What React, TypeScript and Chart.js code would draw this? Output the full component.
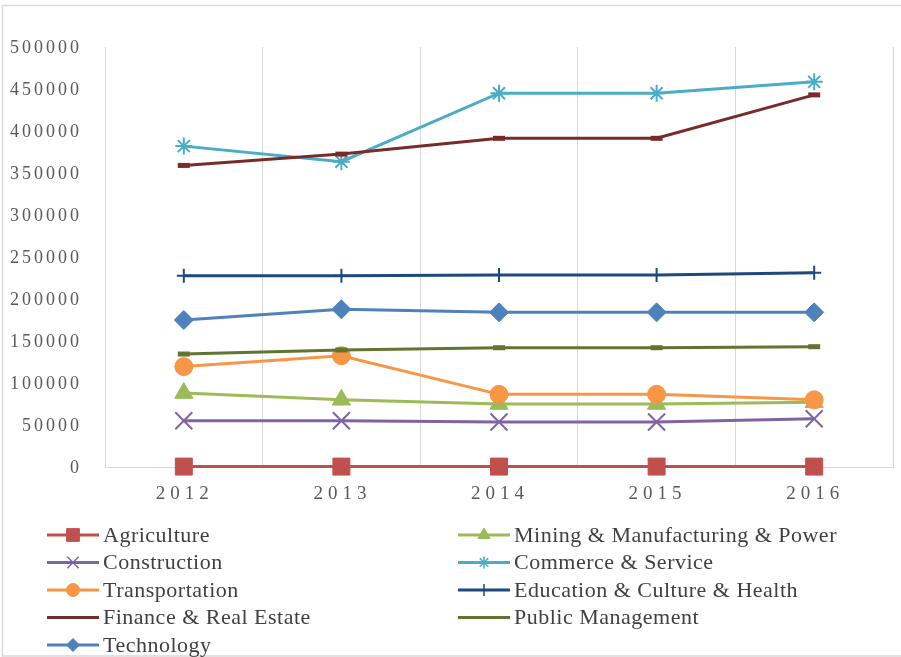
import React, { useEffect, useRef } from 'react';
import { Chart, registerables, CategoryScale, LinearScale } from 'chart.js';
import { drawPoint } from 'chart.js/helpers';

Chart.register(...registerables);

// ---------- data ----------
const years = ['2012', '2013', '2014', '2015', '2016'];
const yTickValues = [0, 50000, 100000, 150000, 200000, 250000, 300000, 350000, 400000, 450000, 500000];

const agriculture = [500, 500, 500, 500, 500];
const mining = [88000, 80000, 75000, 75000, 77000];
const construction = [55000, 55000, 53500, 53500, 57500];
const commerce = [382000, 363500, 445000, 445000, 458500];
const transportation = [119500, 132500, 86500, 86500, 80000];
const education = [227800, 227800, 228500, 228500, 231300];
const finance = [359000, 372500, 391300, 391300, 443000];
const publicManagement = [134500, 139300, 142000, 142000, 143200];
const technology = [175000, 187700, 184100, 184100, 184100];

const seriesNames = [
  'Agriculture',
  'Mining & Manufacturing & Power',
  'Construction',
  'Commerce & Service',
  'Transportation',
  'Education & Culture & Health',
  'Finance & Real Estate',
  'Public Management',
  'Technology',
];
const seriesValues = [agriculture, mining, construction, commerce, transportation, education, finance, publicManagement, technology];

// ---------- styles ----------
const colors = ['#C0504D', '#9BBB59', '#8064A2', '#4BACC6', '#F79646', '#1F497D', '#772C2A', '#5F7530', '#4F81BD'];
const pointStyles = ['rect', 'triangle', 'crossRot', 'star', 'circle', 'cross', 'line', 'line', 'rectRot'];
const pointRadii = [12, 10.5, 12, 8.5, 9, 7, 6, 6, 9.5];
const pointBorderWidths = [1, 1, 2, 2, 1, 2, 5, 5, 1];
const legendRadii = [9, 7, 8, 6, 6.5, 6, 0, 0, 6.5];

class SpacedCategoryScale extends CategoryScale {
  static id = 'spacedCategory';
  static defaults = CategoryScale.defaults;
  drawLabels(area: any) {
    const ctx = this.ctx as any;
    ctx.save();
    ctx.letterSpacing = '5px';
    ctx.translate(1, 2);
    super.drawLabels(area);
    ctx.restore();
  }
}

class SpacedLinearScale extends LinearScale {
  static id = 'spacedLinear';
  static defaults = LinearScale.defaults;
  drawLabels(area: any) {
    const ctx = this.ctx as any;
    ctx.save();
    ctx.letterSpacing = '3px';
    ctx.translate(-1, 1);
    super.drawLabels(area);
    ctx.restore();
  }
}

Chart.register(SpacedCategoryScale as any, SpacedLinearScale as any);

const legendPlugin = {
  id: 'customLegend',
  beforeDraw(chart: any) {
    const ctx = chart.ctx;
    ctx.save();
    ctx.fillStyle = '#ffffff';
    ctx.fillRect(0, 0, chart.width, chart.height);
    ctx.strokeStyle = '#d9d9d9';
    ctx.lineWidth = 1.5;
    ctx.beginPath();
    ctx.moveTo(chart.width + 5, 5.5);
    ctx.lineTo(2.5, 5.5);
    ctx.lineTo(2.5, 656);
    ctx.lineTo(chart.width + 5, 656);
    ctx.stroke();
    ctx.restore();
  },
  afterDraw(chart: any) {
    const ctx = chart.ctx;
    ctx.save();
    ctx.font = '22px "Liberation Serif"';
    (ctx as any).letterSpacing = '0.5px';
    ctx.textBaseline = 'middle';
    ctx.textAlign = 'left';
    chart.data.datasets.forEach((ds: any, i: number) => {
      const col = i % 2;
      const row = Math.floor(i / 2);
      const x0 = col === 0 ? 47 : 458;
      const y = 535 + row * 27.5;
      ctx.strokeStyle = ds.borderColor;
      ctx.lineWidth = 3;
      ctx.beginPath();
      ctx.moveTo(x0, y);
      ctx.lineTo(x0 + 52, y);
      ctx.stroke();
      if (legendRadii[i] > 0) {
        ctx.fillStyle = ds.borderColor;
        ctx.strokeStyle = ds.borderColor;
        ctx.lineWidth = pointBorderWidths[i] > 1 ? 1.5 : 1;
        drawPoint(ctx, { pointStyle: pointStyles[i], rotation: 0, borderWidth: ctx.lineWidth, radius: legendRadii[i] } as any, x0 + 26, y);
      }
      ctx.fillStyle = '#404040';
      ctx.fillText(ds.label, x0 + 56, y + 1);
    });
    ctx.restore();
  },
};

export default function App() {
  const canvasRef = useRef<HTMLCanvasElement | null>(null);

  useEffect(() => {
    const canvas = canvasRef.current;
    if (!canvas) return;
    const datasets = seriesNames.map((name, i) => ({
      label: name,
      data: seriesValues[i],
      borderColor: colors[i],
      backgroundColor: colors[i],
      borderWidth: 3,
      tension: 0,
      clip: false as any,
      pointStyle: pointStyles[i] as any,
      pointRadius: pointRadii[i],
      pointBorderWidth: pointBorderWidths[i],
      pointBackgroundColor: colors[i],
      pointBorderColor: colors[i],
      order: seriesNames.length - i,
    }));

    const chart = new Chart(canvas, {
      type: 'line',
      data: { labels: years, datasets },
      options: {
        animation: false,
        responsive: false,
        maintainAspectRatio: false,
        layout: { autoPadding: false, padding: { top: 47, right: 8, bottom: 150, left: 0 } },
        plugins: {
          legend: { display: false },
          tooltip: { enabled: false },
        },
        scales: {
          x: {
            type: 'spacedCategory' as any,
            offset: true,
            grid: { offset: true, color: '#d9d9d9', lineWidth: 1, drawTicks: false },
            border: { color: '#d9d9d9', width: 1 },
            ticks: {
              color: '#595959',
              font: { family: '"Liberation Serif"', size: 19 },
              padding: 14,
              maxRotation: 0,
            },
            afterFit: (s: any) => {
              s.height = 40;
              s.paddingLeft = 0;
              s.paddingRight = 0;
            },
          } as any,
          y: {
            type: 'spacedLinear' as any,
            min: 0,
            max: 500000,
            grid: { display: false, drawTicks: false },
            border: { display: false },
            ticks: {
              color: '#595959',
              font: { family: '"Liberation Serif"', size: 18 },
              padding: 22,
              callback: (v: any) => String(v),
            },
            afterBuildTicks: (s: any) => {
              s.ticks = yTickValues.map((v) => ({ value: v }));
            },
            afterFit: (s: any) => {
              s.width = 105;
            },
          } as any,
        },
      },
      plugins: [legendPlugin],
    });
    return () => chart.destroy();
  }, []);

  return (
    <div style={{ position: 'fixed', left: 0, top: 0, width: 901, height: 657, background: '#fff' }}>
      <canvas ref={canvasRef} width={901} height={657} style={{ display: 'block', width: 901, height: 657 }} />
    </div>
  );
}
